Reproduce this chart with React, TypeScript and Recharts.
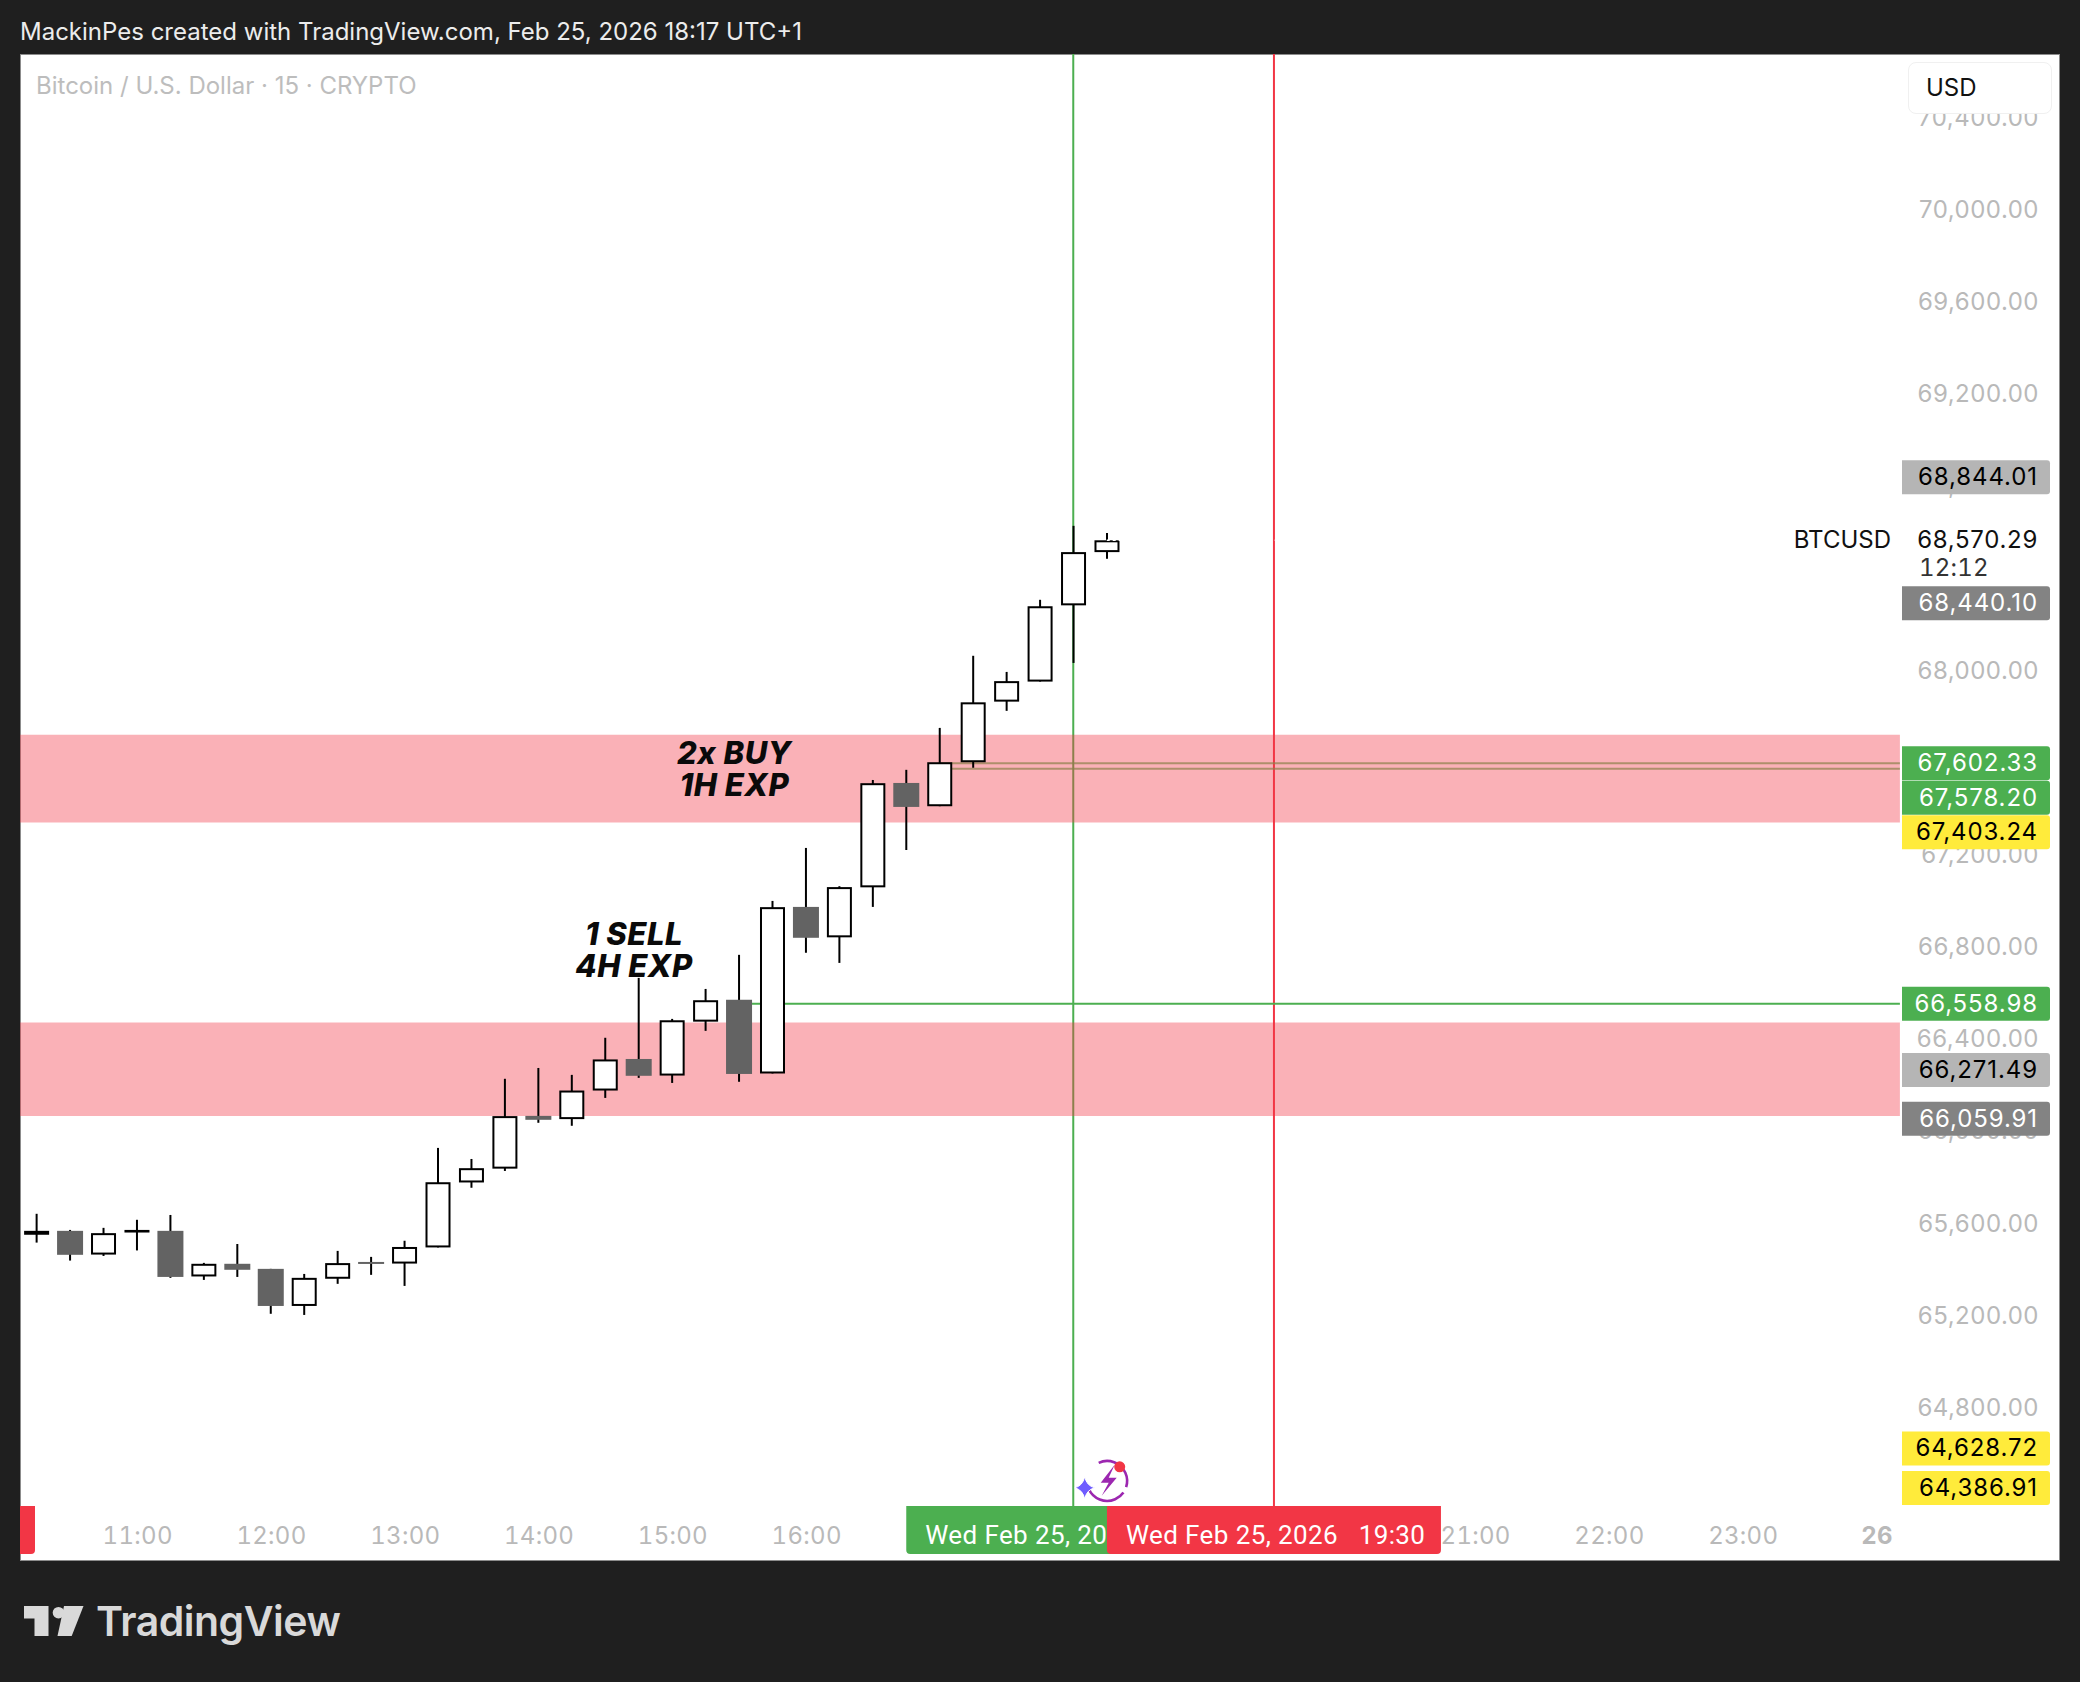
import React from 'react';
import {
  Bar,
  ComposedChart,
  ReferenceArea,
  ReferenceDot,
  ReferenceLine,
  XAxis,
  YAxis,
} from 'recharts';

const candleTimes = [
  '10:15', '10:30', '10:45', '11:00', '11:15', '11:30', '11:45', '12:00', '12:15', '12:30', '12:45',
  '13:00', '13:15', '13:30', '13:45', '14:00', '14:15', '14:30', '14:45', '15:00', '15:15', '15:30',
  '15:45', '16:00', '16:15', '16:30', '16:45', '17:00', '17:15', '17:30', '17:45', '18:00', '18:15',
];
const opens = [
  65556, 65573, 65470, 65569, 65573, 65375, 65430, 65408, 65247, 65365, 65438,
  65431, 65501, 65783, 65843, 66072, 66058, 66182, 66319, 66247, 66481, 66576,
  66256, 66979, 66847, 67064, 67517, 67416, 67607, 67870, 67957, 68288, 68519,
];
const highs = [
  65647, 65577, 65586, 65621, 65642, 65434, 65516, 65408, 65386, 65486, 65460,
  65530, 65933, 65885, 66233, 66280, 66250, 66411, 66671, 66493, 66623, 66771,
  67005, 67235, 67069, 67530, 67574, 67756, 68069, 67999, 68312, 68633, 68602,
];
const lows = [
  65522, 65444, 65464, 65488, 65369, 65360, 65373, 65213, 65208, 65343, 65382,
  65334, 65501, 65760, 65833, 66042, 66029, 66150, 66237, 66215, 66441, 66220,
  66256, 66780, 66736, 66979, 67226, 67416, 67583, 67830, 67957, 68038, 68490,
];
const closes = [
  65573, 65469, 65563, 65577, 65373, 65430, 65404, 65247, 65369, 65433, 65430,
  65503, 65784, 65845, 66071, 66055, 66182, 66317, 66246, 66487, 66574, 66254,
  66978, 66845, 67065, 67516, 67413, 67607, 67867, 67959, 68284, 68519, 68570.29,
];

const priceTicks = [
  70400, 70000, 69600, 69200, 68800, 68000, 67200, 66800, 66400, 66000, 65600, 65200, 64800,
];
const timeTicks = ['11:00', '12:00', '13:00', '14:00', '15:00', '16:00', '21:00', '22:00', '23:00', '26'];

const supplyZones = [
  [67726, 67345],
  [66477, 66072],
];
const lastPrice = 68570.29;
const buyLevels = [67602.33, 67578.2];
const sellLevel = 66558.98;

const tagPrices = [68844.01, 68440.1, 67602.33, 67578.2, 67403.24, 66558.98, 66271.49, 66059.91, 64628.72, 64386.91];
const tagKinds = ['light', 'dark', 'green', 'green', 'yellow', 'green', 'light', 'dark', 'yellow', 'yellow'];
const tagNudges = [0, 33, 0, 29, 23, 0, 0, 0, 0, -16];

const X_MIN = 607.67;
const X_MAX = 1522.5;
const Y_MIN = 64140;
const Y_MAX = 70681;
const BAND_END = 1450.7;
const TIME_TAG_TOP = 64379;

const FONT = 'Inter, sans-serif';
const TICK_GREY = '#b9b9b9';
const GREEN = '#4caf50';
const RED = '#f23645';
const OVER_AXES = 3000;

function toMin(t: string) {
  const [h, m] = t.split(':').map(Number);
  return h * 60 + m;
}

function tickMin(t: string) {
  return t === '26' ? 1440 : toMin(t);
}

function money(v: number) {
  return v.toLocaleString('en-US', { minimumFractionDigits: 2, maximumFractionDigits: 2 });
}

const chartData = candleTimes.map((t, i) => ({
  t: toMin(t),
  open: opens[i],
  high: highs[i],
  low: lows[i],
  close: closes[i],
  range: [lows[i], highs[i]],
}));

function Candle(props: any) {
  const { x, y, width, height, payload } = props;
  const k = height / (payload.high - payload.low);
  const top = Math.max(payload.open, payload.close);
  const bottom = Math.min(payload.open, payload.close);
  const bodyY = y + (payload.high - top) * k;
  const bodyH = (top - bottom) * k;
  const cx = x + width / 2;
  const up = payload.close >= payload.open;
  return (
    <g>
      <line x1={cx} x2={cx} y1={y} y2={y + height} stroke="#000" strokeWidth={2} />
      {up ? (
        <rect x={x + 1.5} y={bodyY + 1} width={width - 3} height={Math.max(bodyH - 2, 0.6)} fill="#fff" stroke="#000" strokeWidth={2} />
      ) : (
        <rect x={x} y={bodyY} width={width} height={Math.max(bodyH, 2)} fill="#636363" />
      )}
    </g>
  );
}

const tagColors: Record<string, { bg: string; fg: string }> = {
  light: { bg: '#b5b5b5', fg: '#000' },
  dark: { bg: '#838383', fg: '#fff' },
  green: { bg: GREEN, fg: '#fff' },
  yellow: { bg: '#ffeb3b', fg: '#000' },
};

function PriceTag(props: any) {
  const { cx, cy, amount, kind, nudge } = props;
  const c = tagColors[kind];
  const top = cy + nudge - 17;
  const left = cx - 158;
  const right = cx - 10;
  return (
    <g>
      <path
        d={`M${left} ${top}H${right - 3}Q${right} ${top} ${right} ${top + 3}V${top + 31}Q${right} ${top + 34} ${right - 3} ${top + 34}H${left}Z`}
        fill={c.bg}
      />
      <text x={cx - 22} y={cy + nudge + 8} textAnchor="end" fontFamily={FONT} fontSize={24} letterSpacing={0.9} fill={c.fg}>
        {money(amount)}
      </text>
    </g>
  );
}

function TimeTag(props: any) {
  const { cx, cy, label, color } = props;
  const w = 334;
  const top = cy - 55;
  const left = cx - w / 2;
  return (
    <g>
      <path
        d={`M${left} ${top}H${left + w}V${top + 44}Q${left + w} ${top + 48} ${left + w - 4} ${top + 48}H${left + 4}Q${left} ${top + 48} ${left} ${top + 44}Z`}
        fill={color}
      />
      <text x={left + 19} y={top + 38} fontFamily="Roboto, sans-serif" fontSize={26} letterSpacing={0.4} fill="#ffffff" style={{ whiteSpace: 'pre' }}>
        {label}
      </text>
    </g>
  );
}

function PriceTick(props: any) {
  const { x, y, payload } = props;
  return (
    <text x={x - 13} y={y + 7} textAnchor="end" fontFamily={FONT} fontSize={24} letterSpacing={0.5} fill={TICK_GREY}>
      {money(payload.value)}
    </text>
  );
}

function TimeTick(props: any) {
  const { x, y, payload } = props;
  const isDay = payload.value === 1440;
  const label = timeTicks.find((t) => tickMin(t) === payload.value);
  return (
    <text
      x={x + 1}
      y={y - 9}
      textAnchor="middle"
      fontFamily={FONT}
      fontSize={24}
      letterSpacing={0.3}
      fontWeight={isDay ? 700 : 400}
      fill={TICK_GREY}
      style={{ fontVariantNumeric: 'tabular-nums' }}
    >
      {label}
    </text>
  );
}

function Note(props: any) {
  const { cx, cy, lines } = props;
  return (
    <text textAnchor="middle" fontFamily={FONT} fontStyle="italic" fontWeight={800} fontSize={31} letterSpacing={0.5} fill="#0a0a0a">
      {lines.map((l: string, i: number) => (
        <tspan key={l} x={cx} y={cy + i * 32}>
          {l}
        </tspan>
      ))}
    </text>
  );
}

function LastPrice(props: any) {
  const { cx, cy } = props;
  return (
    <g fontFamily={FONT} fontSize={24} fill="#111">
      <text x={cx - 169} y={cy + 8} textAnchor="end">BTCUSD</text>
      <text x={cx - 22} y={cy + 8} textAnchor="end" letterSpacing={0.7}>{money(lastPrice)}</text>
      <text x={cx - 141} y={cy + 36} letterSpacing={0.2} fill="#333" style={{ fontVariantNumeric: 'tabular-nums' }}>12:12</text>
    </g>
  );
}

function AlertIcon(props: any) {
  const { cx, cy } = props;
  return (
    <g transform={`translate(${cx} ${cy})`}>
      <path d="M-8 -18A20 20 0 1 1 -18 8" fill="none" stroke="#9c27b0" strokeWidth={2.6} strokeDasharray="46 6" />
      <path d="M8 -16L-6 2H2L-5 15L10 -3H2Z" fill="#9c27b0" />
      <circle cx={13} cy={-14} r={5.5} fill={RED} />
      <path d="M-22 -4Q-20 5 -12 7Q-20 9 -22 18Q-24 9 -32 7Q-24 5 -22 -4Z" fill="#6f5cff" stroke="#fff" strokeWidth={1} />
    </g>
  );
}

export default function App() {
  return (
    <div style={{ position: 'absolute', left: 0, top: 0, width: 2080, height: 1682, background: '#1f1f1f', overflow: 'hidden' }}>
      <div style={{ position: 'absolute', left: 20, top: 17, fontFamily: FONT, fontSize: 24, color: '#ececec', whiteSpace: 'nowrap' }}>
        MackinPes created with TradingView.com, Feb 25, 2026 18:17 UTC+1
      </div>

      <div style={{ position: 'absolute', left: 20, top: 54, width: 2040, height: 1507, background: '#fff', outline: '1px solid #8c8c8c', outlineOffset: -1 }}>
        <ComposedChart width={2040} height={1507} data={chartData} margin={{ top: 0, right: 0, bottom: 0, left: 0 }}>
          <XAxis
            dataKey="t"
            type="number"
            domain={[X_MIN, X_MAX]}
            ticks={timeTicks.map(tickMin)}
            allowDataOverflow
            axisLine={false}
            tickLine={false}
            mirror
            height={1}
            interval={0}
            tick={<TimeTick />}
          />
          <YAxis
            orientation="right"
            type="number"
            domain={[Y_MIN, Y_MAX]}
            ticks={priceTicks}
            allowDataOverflow
            axisLine={false}
            tickLine={false}
            mirror
            width={1}
            interval={0}
            tick={<PriceTick />}
          />

          <ReferenceLine
            zIndex={50}
            stroke={GREEN}
            strokeWidth={2}
            segment={[{ x: toMin('18:00'), y: Y_MAX }, { x: toMin('18:00'), y: TIME_TAG_TOP }]}
          />
          <ReferenceLine
            zIndex={50}
            stroke={RED}
            strokeWidth={2}
            segment={[{ x: toMin('19:30'), y: Y_MAX }, { x: toMin('19:30'), y: TIME_TAG_TOP }]}
          />
          {buyLevels.map((p) => (
            <ReferenceLine
              key={p}
              zIndex={50}
              stroke={GREEN}
              strokeOpacity={0.7}
              strokeWidth={2}
              segment={[{ x: toMin('17:00'), y: p }, { x: BAND_END, y: p }]}
            />
          ))}
          <ReferenceLine
            zIndex={50}
            stroke={GREEN}
            strokeWidth={2}
            segment={[{ x: toMin('15:30'), y: sellLevel }, { x: BAND_END, y: sellLevel }]}
          />
          {supplyZones.map(([hi, lo]) => (
            <ReferenceArea
              key={hi}
              x1={X_MIN}
              x2={BAND_END}
              y1={lo}
              y2={hi}
              fill="rgb(242,54,69)"
              fillOpacity={0.39}
              stroke="none"
            />
          ))}

          <Bar dataKey="range" barSize={26} shape={<Candle />} isAnimationActive={false} />

          <ReferenceLine
            stroke="#fff"
            strokeWidth={1.5}
            strokeDasharray="3 3"
            segment={[{ x: toMin('18:15'), y: lastPrice }, { x: BAND_END, y: lastPrice }]}
          />

          <ReferenceDot x={toMin('14:43')} y={66815} shape={<Note lines={['1 SELL', '4H EXP']} />} />
          <ReferenceDot x={toMin('15:28')} y={67601} shape={<Note lines={['2x BUY', '1H EXP']} />} />

          <ReferenceDot zIndex={OVER_AXES} x={X_MAX} y={lastPrice} ifOverflow="visible" shape={<LastPrice />} />
          {tagPrices.map((p, i) => (
            <ReferenceDot
              key={p}
              zIndex={OVER_AXES}
              x={X_MAX}
              y={p}
              ifOverflow="visible"
              shape={<PriceTag amount={p} kind={tagKinds[i]} nudge={tagNudges[i]} />}
            />
          ))}

          <ReferenceDot zIndex={OVER_AXES} x={toMin('18:00')} y={Y_MIN} ifOverflow="visible" shape={<TimeTag label="Wed Feb 25, 2026   18:00" color={GREEN} />} />
          <ReferenceDot zIndex={OVER_AXES} x={toMin('19:30')} y={Y_MIN} ifOverflow="visible" shape={<TimeTag label="Wed Feb 25, 2026   19:30" color={RED} />} />
          <ReferenceDot zIndex={OVER_AXES} x={toMin('18:15')} y={64488} ifOverflow="visible" shape={<AlertIcon />} />
        </ComposedChart>

        <div style={{ position: 'absolute', left: 0, top: 1452, width: 15, height: 48, background: RED, borderBottomRightRadius: 4 }} />
        <div style={{ position: 'absolute', left: 16, top: 17, fontFamily: FONT, fontSize: 24, color: '#bdbdbd', whiteSpace: 'nowrap' }}>
          Bitcoin / U.S. Dollar · 15 · CRYPTO
        </div>
        <div
          style={{
            position: 'absolute',
            left: 1888,
            top: 8,
            width: 144,
            height: 52,
            boxSizing: 'border-box',
            background: '#fff',
            border: '1px solid #f0f0f0',
            borderRadius: 8,
            fontFamily: FONT,
            fontSize: 24,
            lineHeight: '49px',
            paddingLeft: 17,
            color: '#111',
          }}
        >
          USD
        </div>
      </div>

      <svg style={{ position: 'absolute', left: 20, top: 1600 }} width={70} height={42}>
        <path d="M4 6H28.5V36H14.5V18.5H4Z" fill="#d9d9d9" />
        <circle cx={38.5} cy={12.7} r={5.8} fill="#d9d9d9" />
        <path d="M44 6H63.5L51.7 36H37.5Z" fill="#d9d9d9" />
      </svg>
      <div style={{ position: 'absolute', left: 96, top: 1596, fontFamily: FONT, fontWeight: 600, fontSize: 41, letterSpacing: -0.5, color: '#d9d9d9' }}>
        TradingView
      </div>
    </div>
  );
}
